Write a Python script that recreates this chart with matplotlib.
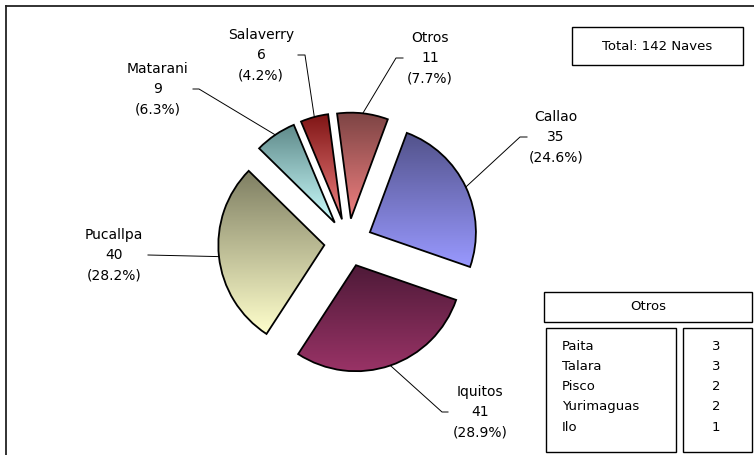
import matplotlib.pyplot as plt
import numpy as np
from matplotlib.colors import to_rgb
from matplotlib.patches import Rectangle

plt.rcParams["font.family"] = "DejaVu Sans"

# Data (clockwise from just left of 12 o'clock)
ports = ["Otros", "Callao", "Iquitos", "Pucallpa", "Matarani", "Salaverry"]
naves = [11, 35, 41, 40, 9, 6]

otros_ports = ["Paita", "Talara", "Pisco", "Yurimaguas", "Ilo"]
otros_naves = [3, 3, 2, 2, 1]

# gradient colours: dark at top, light at bottom
top_colors = {
    "Otros": "#7c4444",
    "Callao": "#52528a",
    "Iquitos": "#4e1a38",
    "Pucallpa": "#7e7e62",
    "Matarani": "#5f8a8a",
    "Salaverry": "#7e1414",
}
bottom_colors = {
    "Otros": "#f08080",
    "Callao": "#9999ff",
    "Iquitos": "#993366",
    "Pucallpa": "#ffffcc",
    "Matarani": "#ccffff",
    "Salaverry": "#f08080",
}

W, H = 754, 455
fig = plt.figure(figsize=(W / 100, H / 100), dpi=100)
ax = fig.add_axes([0, 0, 1, 1])


def Y(y):
    # picture rows (from top) -> data y
    return H - y


total = sum(naves)
cx, cy = 348.2, Y(242.5)
radius = 106

wedges, _ = ax.pie(
    naves,
    explode=[24] * len(naves),
    radius=radius,
    center=(cx, cy),
    startangle=97.5,
    counterclock=False,
    frame=True,
    wedgeprops=dict(edgecolor="black", linewidth=1.3, facecolor="none"),
)

grad = np.linspace(0, 1, 256)[:, None, None]
for w, name in zip(wedges, ports):
    w.set_zorder(3)
    ext = w.get_path().get_extents()
    top = np.array(to_rgb(top_colors[name]))
    bot = np.array(to_rgb(bottom_colors[name]))
    img = (1 - grad) * top + grad * bot
    im = ax.imshow(img, extent=(ext.x0, ext.x1, ext.y0, ext.y1), origin="upper",
                   aspect="auto", zorder=2, interpolation="bilinear")
    im.set_clip_path(w)

# label layout (picture coords) and leader elbows
label_pos = {
    "Otros": (430, 58),
    "Callao": (556, 137),
    "Iquitos": (480, 412),
    "Pucallpa": (114, 255),
    "Matarani": (158, 89),
    "Salaverry": (261, 55),
}
elbows = {
    "Otros": [(403, 58), (396, 58)],
    "Callao": [(527, 137), (520, 137)],
    "Iquitos": [(448, 412), (442, 412)],
    "Pucallpa": [(148, 255)],
    "Matarani": [(193, 89), (199, 89)],
    "Salaverry": [(298, 55), (305, 55)],
}

for w, name, v in zip(wedges, ports, naves):
    lx, ly = label_pos[name]
    ax.text(lx, Y(ly), f"{name}\n{v}\n({v / total * 100:.1f}%)", ha="center", va="center",
            fontsize=10, linespacing=1.55, zorder=5)
    t = np.deg2rad((w.theta1 + w.theta2) / 2)
    ex = w.center[0] + w.r * np.cos(t)
    ey = w.center[1] + w.r * np.sin(t)
    pts = elbows[name]
    xs = [p[0] for p in pts] + [ex]
    ys = [Y(p[1]) for p in pts] + [ey]
    ax.plot(xs, ys, color="black", linewidth=0.7, zorder=4)

# outer frame (only top and left visible)
ax.plot([6, 6], [Y(6), Y(H + 5)], color="#222222", linewidth=1.3, clip_on=False)
ax.plot([6, W + 5], [Y(6), Y(6)], color="#222222", linewidth=1.3, clip_on=False)

box_kw = dict(facecolor="white", edgecolor="black", linewidth=1.0, zorder=5)

# total box
ax.add_patch(Rectangle((572, Y(65)), 171, 38, **box_kw))
ax.text(657, Y(46), f"Total: {total} Naves", ha="center", va="center", fontsize=9.5, zorder=6)

# "Otros" breakdown table
ax.add_patch(Rectangle((544, Y(322)), 208, 30, **box_kw))
ax.text(648, Y(307), "Otros", ha="center", va="center", fontsize=9.5, zorder=6)
ax.add_patch(Rectangle((546, Y(452)), 130, 124, **box_kw))
ax.add_patch(Rectangle((683, Y(452)), 69, 124, **box_kw))
for i, (p, n) in enumerate(zip(otros_ports, otros_naves)):
    yy = Y(346 + i * 20.3)
    ax.text(562, yy, p, ha="left", va="center", fontsize=9.5, zorder=6)
    ax.text(716, yy, str(n), ha="center", va="center", fontsize=9.5, zorder=6)

ax.set_xlim(0, W)
ax.set_ylim(0, H)
ax.set_aspect("auto")
ax.axis("off")

fig.savefig("out.png", dpi=100)
